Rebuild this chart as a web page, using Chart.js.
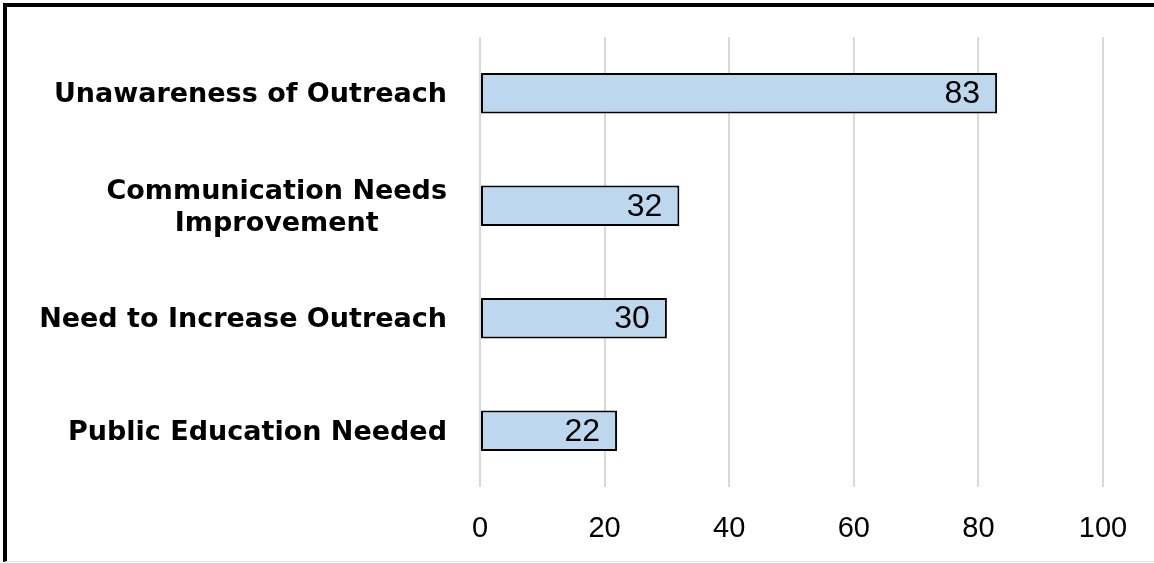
<!DOCTYPE html>
<html>
<head>
<meta charset="utf-8">
<script src="https://cdn.jsdelivr.net/npm/chart.js@4.4.1/dist/chart.umd.min.js"></script>
<style>
  html, body { margin: 0; padding: 0; background: #fff; }
  #frame {
    position: absolute; left: 3px; top: 3px;
    width: 1151px; height: 554px;
    border-left: 4px solid #000;
    border-top: 4px solid #000;
    border-bottom: 1px solid #e3e3e3;
    box-sizing: content-box;
  }
  #wrap { position: relative; width: 1147px; height: 554px; }
</style>
</head>
<body>
<div id="frame"><div id="wrap"><canvas id="barChart"></canvas></div></div>
<script>
var categories = [
  'Unawareness of Outreach',
  ['Communication Needs', 'Improvement'],
  'Need to Increase Outreach',
  'Public Education Needed'
];
var responses = [83, 32, 30, 22];
var tickValues = [0, 20, 40, 60, 80, 100];

var labelFont = 'bold 27px "DejaVu Sans", sans-serif';
var valueFont = '32px "Liberation Sans", Arial, sans-serif';

// category names: right edge fixed, wrapped lines centred on each other
var categoryLabels = {
  id: 'categoryLabels',
  afterDraw: function(chart) {
    var ctx = chart.ctx;
    var y = chart.scales.y;
    ctx.save();
    ctx.font = labelFont;
    ctx.fillStyle = '#000';
    ctx.textBaseline = 'middle';
    ctx.textAlign = 'center';
    var right = y.right - 33;
    var lineH = 32;
    categories.forEach(function(lab, i) {
      var lines = Array.isArray(lab) ? lab : [lab];
      var w = Math.max.apply(null, lines.map(function(l) { return ctx.measureText(l).width; }));
      var cx = right - w / 2;
      var cy = y.getPixelForValue(i) + 2 - (lines.length - 1) * lineH / 2;
      lines.forEach(function(l, k) { ctx.fillText(l, cx, cy + k * lineH); });
    });
    ctx.restore();
  }
};

// value written inside the end of each bar
var barValues = {
  id: 'barValues',
  afterDatasetsDraw: function(chart) {
    var ctx = chart.ctx;
    var meta = chart.getDatasetMeta(0);
    ctx.save();
    ctx.font = valueFont;
    ctx.fillStyle = '#000';
    ctx.textAlign = 'right';
    ctx.textBaseline = 'middle';
    meta.data.forEach(function(bar, i) {
      ctx.fillText(String(responses[i]), bar.x - 17, bar.y + 1);
    });
    ctx.restore();
  }
};

var ctx = document.getElementById('barChart');
var barGraph = new Chart(ctx, {
  type: 'bar',
  data: {
    labels: categories,
    datasets: [{
      data: responses,
      backgroundColor: '#BDD7EE',
      borderColor: '#000000',
      borderWidth: 2,
      borderSkipped: false,
      barPercentage: 0.36,
      categoryPercentage: 1
    }]
  },
  options: {
    indexAxis: 'y',
    responsive: true,
    maintainAspectRatio: false,
    animation: false,
    layout: { padding: { top: 30, right: 51, left: 0, bottom: 0 } },
    plugins: { legend: { display: false }, tooltip: { enabled: false } },
    scales: {
      x: {
        min: 0, max: 100,
        afterBuildTicks: function(scale) {
          scale.ticks = tickValues.map(function(v) { return { value: v }; });
        },
        afterFit: function(scale) { scale.height = 74; },
        grid: { color: '#d9d9d9', lineWidth: 2, drawTicks: false },
        border: { display: false },
        ticks: {
          padding: 25,
          color: '#000',
          font: { family: '"Liberation Sans", sans-serif', size: 29 }
        }
      },
      y: {
        afterFit: function(scale) { scale.width = 473; },
        grid: { display: false },
        border: { display: false },
        ticks: { display: false }
      }
    }
  },
  plugins: [categoryLabels, barValues]
});
</script>
</body>
</html>
